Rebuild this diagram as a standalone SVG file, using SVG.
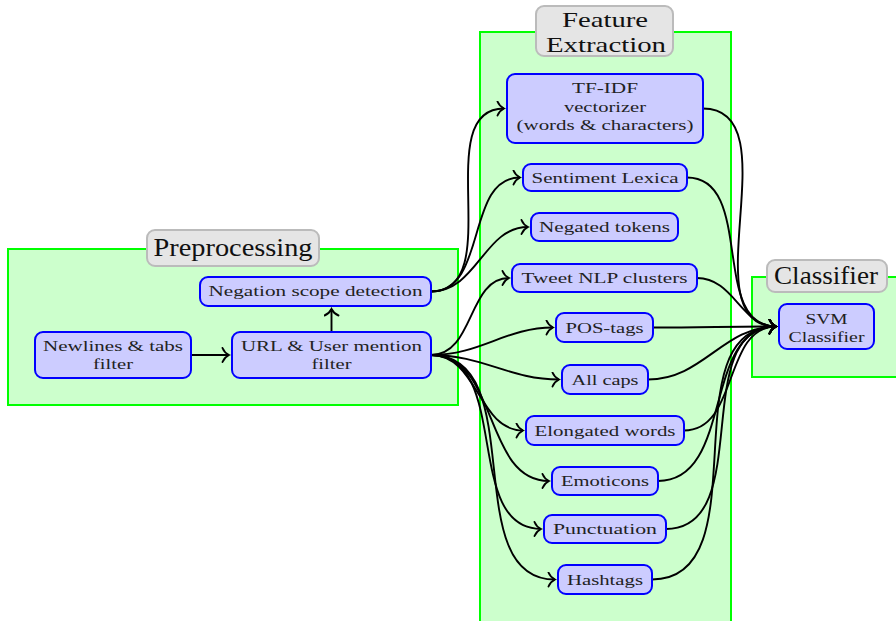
<svg xmlns="http://www.w3.org/2000/svg" width="896" height="621" viewBox="0 0 896 621">
<defs>
<style>
.grp{fill:#ccffcc;stroke:#00ff00;stroke-width:2}
.ttl{fill:#e5e5e5;stroke:#bbbbbb;stroke-width:2}
.ttxt{font-family:"Liberation Serif",serif;font-size:25px;fill:#111;text-anchor:middle}
.nd{fill:#ccccff;stroke:#0000ff;stroke-width:2}
.ntxt{font-family:"Liberation Serif",serif;font-size:14.5px;fill:#222;text-anchor:middle}
.e{fill:none;stroke:#000;stroke-width:1.9;marker-end:url(#arr)}
</style>
<marker id="arr" markerUnits="userSpaceOnUse" viewBox="-8 -8 10 16" refX="0" refY="0" markerWidth="10" markerHeight="16" orient="auto">
<path d="M-6.5,-7 C-5,-3.2 -1.6,-0.8 0,0 C-1.6,0.8 -5,3.2 -6.5,7" fill="none" stroke="#000" stroke-width="1.9" stroke-linecap="round"/>
</marker>
</defs>
<rect width="896" height="621" fill="#fff"/>

<g id="group-preprocessing">
<rect class="grp" x="8" y="249" width="450" height="156"/>
<rect class="ttl" x="147" y="230" width="172" height="36" rx="8"/>
<text class="ttxt" x="233" y="256" textLength="159" lengthAdjust="spacingAndGlyphs">Preprocessing</text>
</g>
<g id="group-feature">
<rect class="grp" x="480" y="32" width="251" height="600"/>
<rect class="ttl" x="536" y="6" width="137" height="50" rx="8"/>
<text class="ttxt" style="font-size:22px" x="605" y="27" textLength="86" lengthAdjust="spacingAndGlyphs">Feature</text>
<text class="ttxt" style="font-size:22px" x="606" y="52" textLength="120" lengthAdjust="spacingAndGlyphs">Extraction</text>
</g>
<g id="group-classifier">
<rect class="grp" x="752" y="277" width="160" height="100"/>
<rect class="ttl" x="767" y="260" width="120" height="32" rx="8"/>
<text class="ttxt" x="826" y="284" textLength="104" lengthAdjust="spacingAndGlyphs">Classifier</text>
</g>

<g id="connectors">
<path class="e" d="M191,355 L229,355"/>
<path class="e" d="M331.5,332 L331.5,309"/>
<path class="e" d="M431,291.5 C508.4,291.5 428.6,108.5 504,108.5"/>
<path class="e" d="M431,291.5 C488.1,291.5 464.9,177.5 520,177.5"/>
<path class="e" d="M431,291.5 C477.3,291.5 483.7,227 528,227"/>
<path class="e" d="M431,355 C474.5,355 467.5,278 509,278"/>
<path class="e" d="M431,355 C480.7,355 505.3,327.5 553,327.5"/>
<path class="e" d="M431,355 C482.8,355 509.2,379.5 559,379.5"/>
<path class="e" d="M431,355 C478.2,355 477.8,430.5 523,430.5"/>
<path class="e" d="M431,355 C499.1,355 482.9,481 549,481"/>
<path class="e" d="M431,355 C512,355 462,529 541,529"/>
<path class="e" d="M431,355 C531.8,355 456.2,579.5 555,579.5"/>
<path class="e" d="M703,108.5 C793.2,108.5 687.8,326.5 776,326.5"/>
<path class="e" d="M687,177.5 C755.4,177.5 709.6,326.5 776,326.5"/>
<path class="e" d="M697,278 C734,278 741,326.5 776,326.5"/>
<path class="e" d="M653,327.5 C701.9,327.5 729.1,326.5 776,326.5"/>
<path class="e" d="M648,379.5 C703,379.5 723,326.5 776,326.5"/>
<path class="e" d="M684,430.5 C738.9,430.5 723.1,326.5 776,326.5"/>
<path class="e" d="M658,481 C734.6,481 701.4,326.5 776,326.5"/>
<path class="e" d="M666,529 C756.6,529 687.4,326.5 776,326.5"/>
<path class="e" d="M652,579.5 C762.6,579.5 667.4,326.5 776,326.5"/>
</g>

<g id="node-newlines">
<rect class="nd" x="35" y="332" width="156" height="46" rx="8"/>
<text class="ntxt" x="113" y="351" textLength="140" lengthAdjust="spacingAndGlyphs">Newlines &amp; tabs</text>
<text class="ntxt" x="113" y="369" textLength="40" lengthAdjust="spacingAndGlyphs">filter</text>
</g>
<g id="node-url">
<rect class="nd" x="232" y="332" width="199" height="46" rx="8"/>
<text class="ntxt" x="331.5" y="351" textLength="181" lengthAdjust="spacingAndGlyphs">URL &amp; User mention</text>
<text class="ntxt" x="331.5" y="369" textLength="40" lengthAdjust="spacingAndGlyphs">filter</text>
</g>
<g id="node-negation">
<rect class="nd" x="200" y="277" width="231" height="29" rx="8"/>
<text class="ntxt" x="315.5" y="296" textLength="214" lengthAdjust="spacingAndGlyphs">Negation scope detection</text>
</g>
<g id="node-tfidf">
<rect class="nd" x="507" y="74" width="196" height="69" rx="8"/>
<text class="ntxt" x="605" y="93" textLength="66" lengthAdjust="spacingAndGlyphs">TF-IDF</text>
<text class="ntxt" x="605" y="112" textLength="82" lengthAdjust="spacingAndGlyphs">vectorizer</text>
<text class="ntxt" x="605" y="130" textLength="177" lengthAdjust="spacingAndGlyphs">(words &amp; characters)</text>
</g>
<g id="node-sentiment">
<rect class="nd" x="523" y="164" width="164" height="27" rx="8"/>
<text class="ntxt" x="605" y="182.5" textLength="147" lengthAdjust="spacingAndGlyphs">Sentiment Lexica</text>
</g>
<g id="node-negated">
<rect class="nd" x="531" y="213" width="147" height="28" rx="8"/>
<text class="ntxt" x="604.5" y="232" textLength="131" lengthAdjust="spacingAndGlyphs">Negated tokens</text>
</g>
<g id="node-tweetnlp">
<rect class="nd" x="512" y="264" width="185" height="28" rx="8"/>
<text class="ntxt" x="604.5" y="283" textLength="166" lengthAdjust="spacingAndGlyphs">Tweet NLP clusters</text>
</g>
<g id="node-pos">
<rect class="nd" x="556" y="313" width="97" height="29" rx="8"/>
<text class="ntxt" x="604.5" y="332.5" textLength="78" lengthAdjust="spacingAndGlyphs">POS-tags</text>
</g>
<g id="node-allcaps">
<rect class="nd" x="562" y="365" width="86" height="29" rx="8"/>
<text class="ntxt" x="605" y="384.5" textLength="67" lengthAdjust="spacingAndGlyphs">All caps</text>
</g>
<g id="node-elongated">
<rect class="nd" x="526" y="416" width="158" height="29" rx="8"/>
<text class="ntxt" x="605" y="435.5" textLength="141" lengthAdjust="spacingAndGlyphs">Elongated words</text>
</g>
<g id="node-emoticons">
<rect class="nd" x="552" y="467" width="106" height="28" rx="8"/>
<text class="ntxt" x="605" y="486" textLength="88" lengthAdjust="spacingAndGlyphs">Emoticons</text>
</g>
<g id="node-punctuation">
<rect class="nd" x="544" y="515" width="122" height="28" rx="8"/>
<text class="ntxt" x="605" y="534" textLength="104" lengthAdjust="spacingAndGlyphs">Punctuation</text>
</g>
<g id="node-hashtags">
<rect class="nd" x="558" y="565" width="94" height="29" rx="8"/>
<text class="ntxt" x="605" y="584.5" textLength="76" lengthAdjust="spacingAndGlyphs">Hashtags</text>
</g>
<g id="node-svm">
<rect class="nd" x="779" y="304" width="95" height="45" rx="8"/>
<text class="ntxt" x="826.5" y="324" textLength="42" lengthAdjust="spacingAndGlyphs">SVM</text>
<text class="ntxt" x="826.5" y="342" textLength="76" lengthAdjust="spacingAndGlyphs">Classifier</text>
</g>
</svg>
